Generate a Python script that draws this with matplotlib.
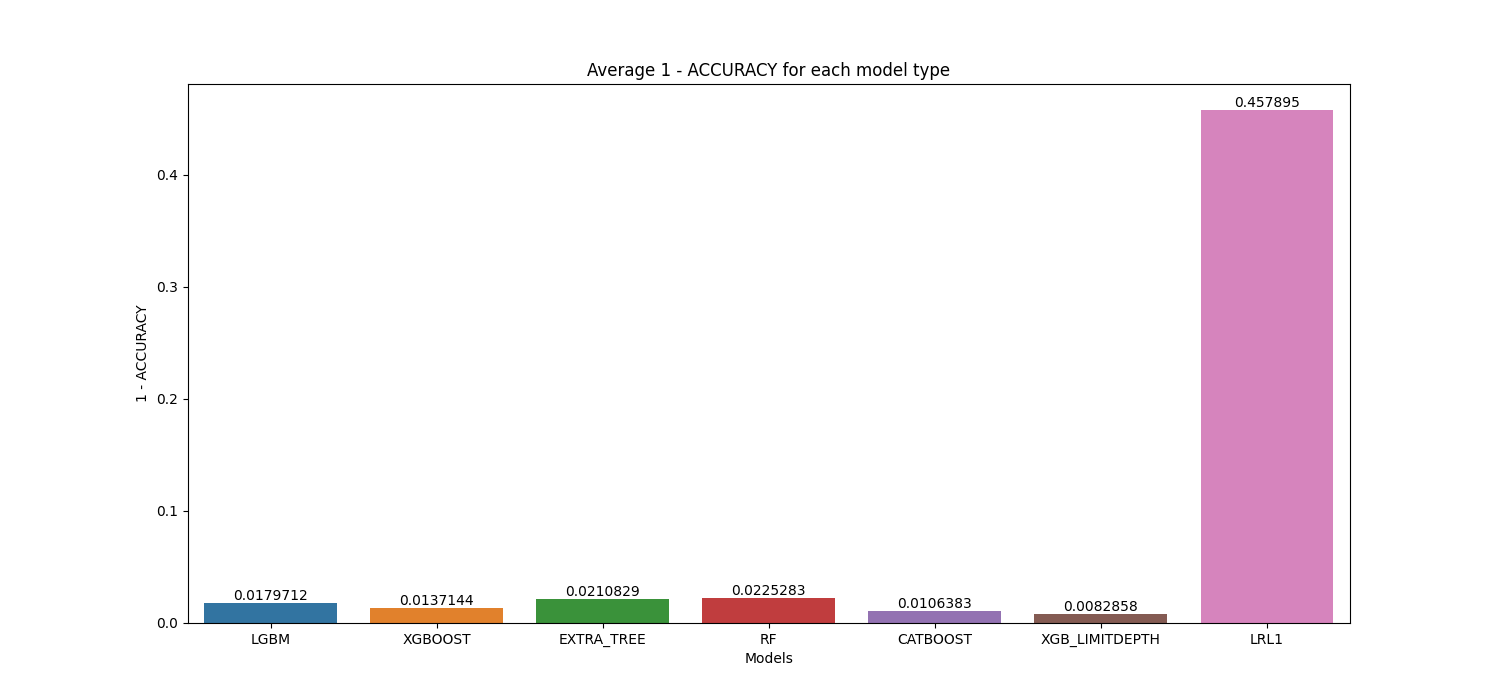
import matplotlib
matplotlib.use('Agg')
import matplotlib.pyplot as plt
import seaborn as sns
import pandas as pd

models = ['LGBM', 'XGBOOST', 'EXTRA_TREE', 'RF', 'CATBOOST', 'XGB_LIMITDEPTH', 'LRL1']
errors = [0.0179712, 0.0137144, 0.0210829, 0.0225283, 0.0106383, 0.0082858, 0.457895]

df = pd.DataFrame({'Models': models, '1 - ACCURACY': errors})

fig, ax = plt.subplots(figsize=(15, 7), dpi=100)
sns.barplot(data=df, x='Models', y='1 - ACCURACY', hue='Models', legend=False, ax=ax)
for c in ax.containers:
    ax.bar_label(c)
ax.set_title('Average 1 - ACCURACY for each model type')

fig.savefig('out.png')
